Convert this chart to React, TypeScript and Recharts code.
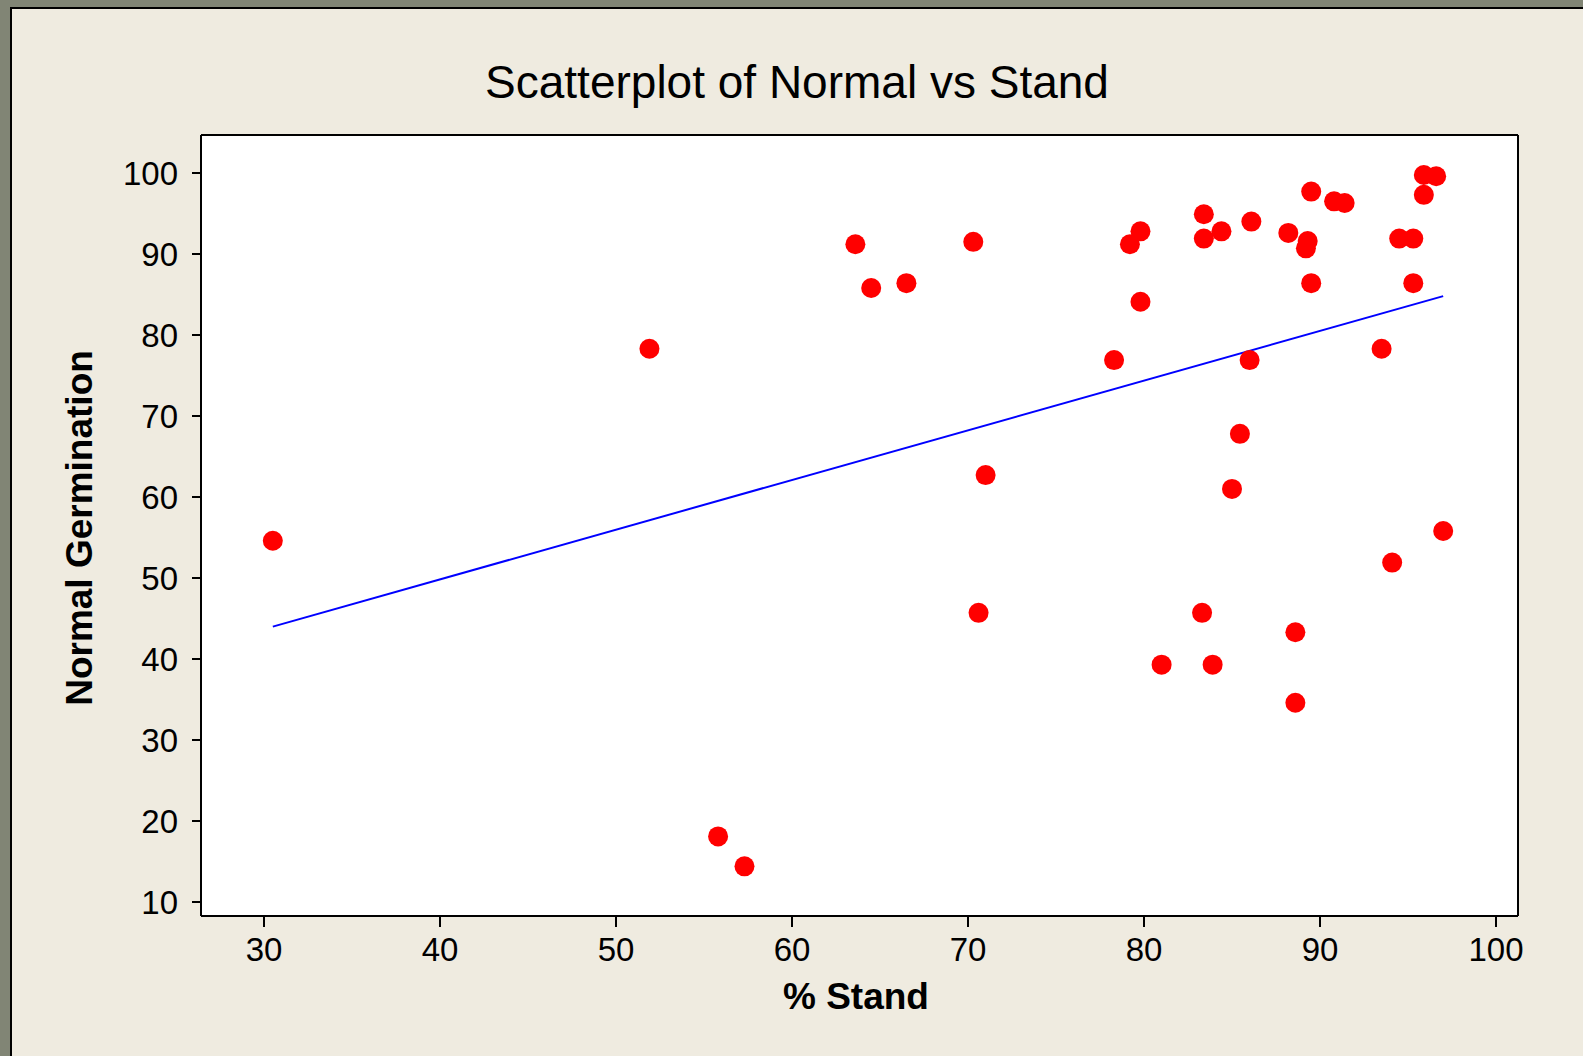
import { ScatterChart, Scatter, XAxis, YAxis, CartesianGrid } from "recharts";

// % Stand (x) and Normal Germination (y)
const stand = [
  30.5, 51.9, 55.8, 57.3, 63.6, 64.5, 66.5, 70.3, 71.0, 70.6, 78.3, 79.2, 79.8, 79.8,
  81.0, 83.3, 83.4, 83.4, 84.4, 83.9, 86.1, 86.0, 85.45, 85.0, 88.2, 88.6, 88.6, 89.3,
  89.2, 89.5, 89.5, 90.8, 91.4, 93.5, 94.1, 94.5, 95.3, 95.3, 95.9, 96.6, 95.9, 97.0,
];
const normal = [
  54.6, 78.3, 18.1, 14.4, 91.2, 85.8, 86.4, 91.5, 62.7, 45.7, 76.9, 91.2, 92.8, 84.1,
  39.3, 45.7, 94.9, 91.9, 92.8, 39.3, 94.0, 76.9, 67.8, 61.0, 92.6, 43.3, 34.6, 91.6,
  90.7, 97.7, 86.4, 96.5, 96.3, 78.3, 51.9, 91.9, 91.9, 86.4, 99.75, 99.6, 97.3, 55.8,
];

// fitted line end points
const fitStand = [30.5, 97.0];
const fitNormal = [44.0, 84.8];

const xTicks = [30, 40, 50, 60, 70, 80, 90, 100];
const yTicks = [10, 20, 30, 40, 50, 60, 70, 80, 90, 100];

const points = stand.map((x, i) => ({ x, y: normal[i] }));
const fitLine = fitStand.map((x, i) => ({ x, y: fitNormal[i] }));

const FONT = "'Liberation Sans', Arial, sans-serif";
const tickStyle = { fill: "#000", fontSize: 33, fontFamily: FONT };
const edge = { stroke: "#000", strokeWidth: 2 };

const Dot = (p: any) => <circle cx={p.cx} cy={p.cy} r={10} fill="#ff0000" />;

export default function App() {
  return (
    <div
      style={{
        position: "absolute",
        left: 0,
        top: 0,
        width: 1583,
        height: 1056,
        overflow: "hidden",
        background: "#818575",
      }}
    >
      <div
        style={{
          position: "absolute",
          left: 10,
          top: 7,
          width: 1600,
          height: 1100,
          borderLeft: "2px solid #000",
          borderTop: "2px solid #000",
          background: "#efebe0",
        }}
      />
      <div style={{ position: "absolute", left: 0, top: 0 }}>
        <ScatterChart
          width={1583}
          height={1056}
          margin={{ top: 125, right: 55, bottom: 80, left: 121 }}
        >
          <CartesianGrid fill="#ffffff" horizontal={false} vertical={false} />
          <XAxis
            type="number"
            dataKey="x"
            domain={[26.42, 101.25]}
            ticks={xTicks}
            interval={0}
            allowDataOverflow
            height={60}
            tickSize={11}
            tickMargin={11}
            axisLine={edge}
            tickLine={edge}
            tick={tickStyle}
          />
          <YAxis
            type="number"
            dataKey="y"
            domain={[8.27, 104.69]}
            ticks={yTicks}
            interval={0}
            allowDataOverflow
            width={80}
            tickSize={9}
            tickMargin={14}
            axisLine={edge}
            tickLine={edge}
            tick={tickStyle}
          />
          <XAxis
            xAxisId="top"
            orientation="top"
            type="number"
            domain={[0, 1]}
            height={10}
            tick={false}
            tickLine={false}
            axisLine={edge}
          />
          <YAxis
            yAxisId="right"
            orientation="right"
            type="number"
            domain={[0, 1]}
            width={10}
            tick={false}
            tickLine={false}
            axisLine={edge}
          />
          <Scatter
            data={fitLine}
            line={{ stroke: "#0000ff", strokeWidth: 2 }}
            shape={() => <g />}
            isAnimationActive={false}
          />
          <Scatter data={points} shape={Dot} isAnimationActive={false} />
        </ScatterChart>
      </div>
      <svg
        width={1583}
        height={1056}
        style={{ position: "absolute", left: 0, top: 0, pointerEvents: "none" }}
      >
        <text x={797} y={98} textAnchor="middle" fontSize={46} fontFamily={FONT} fill="#000">
          Scatterplot of Normal vs Stand
        </text>
        <text
          x={856}
          y={1009}
          textAnchor="middle"
          fontSize={37}
          fontWeight="bold"
          fontFamily={FONT}
          fill="#000"
        >
          % Stand
        </text>
        <text
          transform="translate(92,528) rotate(-90)"
          textAnchor="middle"
          fontSize={37}
          fontWeight="bold"
          fontFamily={FONT}
          fill="#000"
        >
          Normal Germination
        </text>
      </svg>
    </div>
  );
}
